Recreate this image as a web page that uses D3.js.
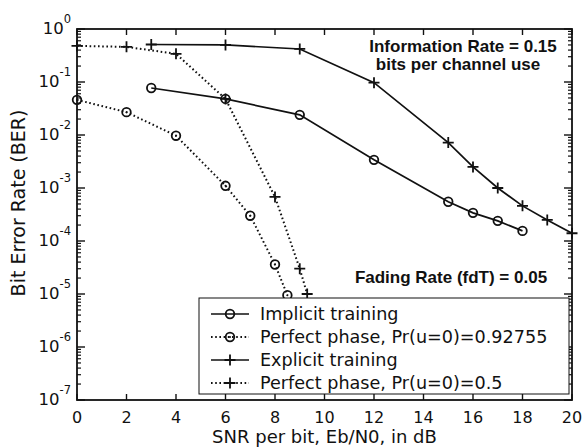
<!DOCTYPE html>
<html>
<head>
<meta charset="utf-8">
<script src="https://cdn.jsdelivr.net/npm/d3@7"></script>
<style>
  body { margin: 0; background: #fff; }
  text { font-family: "DejaVu Sans", sans-serif; fill: #111; }
</style>
</head>
<body>
<div id="chart"></div>
<script>
// values
var implicitX   = [3, 6, 9, 12, 15, 16, 17, 18];
var implicitBER = [0.077, 0.048, 0.024, 0.0034, 5.5e-4, 3.4e-4, 2.4e-4, 1.55e-4];

var perfectAX   = [0, 2, 4, 6, 7, 8, 8.5];
var perfectABER = [0.046, 0.027, 0.0097, 0.0011, 3.0e-4, 3.6e-5, 9.5e-6];

var explicitX   = [3, 6, 9, 12, 15, 16, 17, 18, 19, 20];
var explicitBER = [0.51, 0.50, 0.42, 0.097, 0.0072, 0.0025, 0.001, 4.6e-4, 2.5e-4, 1.4e-4];

var perfectBX   = [0, 2, 4, 6, 8, 9, 9.3];
var perfectBBER = [0.48, 0.46, 0.34, 0.048, 6.8e-4, 3.0e-5, 1.0e-5];

var xTicks = [0, 2, 4, 6, 8, 10, 12, 14, 16, 18, 20];
var yExponents = [0, -1, -2, -3, -4, -5, -6, -7];

var legendLabels = ["Implicit training", "Perfect phase, Pr(u=0)=0.92755",
                    "Explicit training", "Perfect phase, Pr(u=0)=0.5"];

var margin = {top: 29, right: 15, bottom: 48, left: 77},
    width = 587 - margin.left - margin.right,
    height = 448 - margin.top - margin.bottom;

var svg = d3.select("#chart").append("svg")
    .attr("width", 587)
    .attr("height", 448)
    .append("g")
    .attr("transform", "translate(" + margin.left + "," + margin.top + ")");

var x = d3.scaleLinear().domain([0, 20]).range([0, width]);
var y = d3.scaleLog().domain([1e-7, 1]).range([height, 0]);

// minor + major ticks on y (log)
var minorY = [];
for (var e = -7; e < 0; e++) {
    for (var k = 2; k <= 9; k++) minorY.push(k * Math.pow(10, e));
}
var majorY = yExponents.map(function(p) { return Math.pow(10, p); });

svg.append("clipPath").attr("id", "clip")
    .append("rect").attr("width", width).attr("height", height);

// left / right y ticks
[0, width].forEach(function(xx) {
    var dir = xx === 0 ? 1 : -1;
    svg.append("g").selectAll("line.minor").data(minorY).enter().append("line")
        .attr("x1", xx).attr("x2", xx + dir * 4)
        .attr("y1", function(d) { return y(d); })
        .attr("y2", function(d) { return y(d); })
        .attr("stroke", "#111").attr("stroke-width", 1.2);
    svg.append("g").selectAll("line.major").data(majorY).enter().append("line")
        .attr("x1", xx).attr("x2", xx + dir * 8)
        .attr("y1", function(d) { return y(d); })
        .attr("y2", function(d) { return y(d); })
        .attr("stroke", "#111").attr("stroke-width", 1.4);
});

// bottom / top x ticks
[0, height].forEach(function(yy) {
    var dir = yy === 0 ? 1 : -1;
    svg.append("g").selectAll("line").data(xTicks).enter().append("line")
        .attr("x1", function(d) { return x(d); })
        .attr("x2", function(d) { return x(d); })
        .attr("y1", yy).attr("y2", yy + dir * 6)
        .attr("stroke", "#111").attr("stroke-width", 1.4);
});

// frame
svg.append("rect")
    .attr("width", width).attr("height", height)
    .attr("fill", "none").attr("stroke", "#111").attr("stroke-width", 1.8);

// y tick labels 10^n
var yl = svg.append("g").selectAll("text").data(yExponents).enter().append("text")
    .attr("x", -6)
    .attr("y", function(d) { return y(Math.pow(10, d)) + 5; })
    .attr("text-anchor", "end")
    .style("font-size", "16.5px");
yl.append("tspan").text("10");
yl.append("tspan")
    .attr("dy", -11)
    .style("font-size", "11.5px")
    .text(function(d) { return d; });

// x tick labels
svg.append("g").selectAll("text").data(xTicks).enter().append("text")
    .attr("x", function(d) { return x(d); })
    .attr("y", height + 23)
    .attr("text-anchor", "middle")
    .style("font-size", "16px")
    .text(function(d) { return d; });

// axis titles
svg.append("text")
    .attr("x", width / 2)
    .attr("y", height + 43)
    .attr("text-anchor", "middle")
    .style("font-size", "18px")
    .text("SNR per bit, Eb/N0, in dB");

svg.append("text")
    .attr("transform", "translate(" + (25 - margin.left) + "," + (203 - margin.top) + ") rotate(-90)")
    .attr("text-anchor", "middle")
    .style("font-size", "19px")
    .text("Bit Error Rate (BER)");

// series
var series = [
    {xs: implicitX, ys: implicitBER, dash: null, marker: "circle"},
    {xs: perfectAX, ys: perfectABER, dash: "1.6,2.6", marker: "circle"},
    {xs: explicitX, ys: explicitBER, dash: null, marker: "plus"},
    {xs: perfectBX, ys: perfectBBER, dash: "1.6,2.6", marker: "plus"}
];

var line = d3.line()
    .x(function(d) { return x(d[0]); })
    .y(function(d) { return y(d[1]); });

function drawMarker(g, kind, dotted, cx, cy) {
    if (kind === "circle") {
        g.append("circle").attr("cx", cx).attr("cy", cy).attr("r", 4.3)
            .attr("fill", "none").attr("stroke", "#111").attr("stroke-width", 1.8);
        if (dotted) {
            g.append("circle").attr("cx", cx).attr("cy", cy).attr("r", 1)
                .attr("fill", "#111");
        }
    } else {
        g.append("path")
            .attr("d", "M" + (cx - 5.5) + "," + cy + "H" + (cx + 5.5) +
                       "M" + cx + "," + (cy - 5.5) + "V" + (cy + 5.5))
            .attr("stroke", "#111").attr("stroke-width", 1.8);
    }
}

series.forEach(function(s) {
    var pts = s.xs.map(function(v, i) { return [v, s.ys[i]]; });
    svg.append("path")
        .datum(pts)
        .attr("clip-path", "url(#clip)")
        .attr("d", line)
        .attr("fill", "none")
        .attr("stroke", "#111")
        .attr("stroke-width", s.dash ? 2 : 1.7)
        .attr("stroke-dasharray", s.dash);
    var g = svg.append("g");
    pts.forEach(function(p) {
        drawMarker(g, s.marker, !!s.dash, x(p[0]), y(p[1]));
    });
});

// annotations
svg.append("text")
    .attr("x", 463 - margin.left).attr("y", 52 - margin.top)
    .attr("text-anchor", "middle")
    .style("font-family", "'Liberation Sans', Arial, sans-serif")
    .style("font-weight", "bold").style("font-size", "17px")
    .text("Information Rate = 0.15");
svg.append("text")
    .attr("x", 458 - margin.left).attr("y", 70 - margin.top)
    .attr("text-anchor", "middle")
    .style("font-family", "'Liberation Sans', Arial, sans-serif")
    .style("font-weight", "bold").style("font-size", "17px")
    .text("bits per channel use");
svg.append("text")
    .attr("x", 451 - margin.left).attr("y", 283 - margin.top)
    .attr("text-anchor", "middle")
    .style("font-family", "'Liberation Sans', Arial, sans-serif")
    .style("font-weight", "bold").style("font-size", "17px")
    .text("Fading Rate (fdT) = 0.05");

// legend
var lg = svg.append("g")
    .attr("transform", "translate(" + (199 - margin.left) + "," + (298 - margin.top) + ")");
lg.append("rect")
    .attr("width", 370).attr("height", 96)
    .attr("fill", "#fff").attr("stroke", "#111").attr("stroke-width", 1);

series.forEach(function(s, i) {
    var ly = 16 + i * 23;
    lg.append("line")
        .attr("x1", 12).attr("x2", 50)
        .attr("y1", ly).attr("y2", ly)
        .attr("stroke", "#111")
        .attr("stroke-width", s.dash ? 2 : 1.7)
        .attr("stroke-dasharray", s.dash);
    drawMarker(lg, s.marker, !!s.dash, 31, ly);
    lg.append("text")
        .attr("x", 61).attr("y", ly + 6)
        .style("font-size", "17.6px")
        .text(legendLabels[i]);
});
</script>
</body>
</html>
